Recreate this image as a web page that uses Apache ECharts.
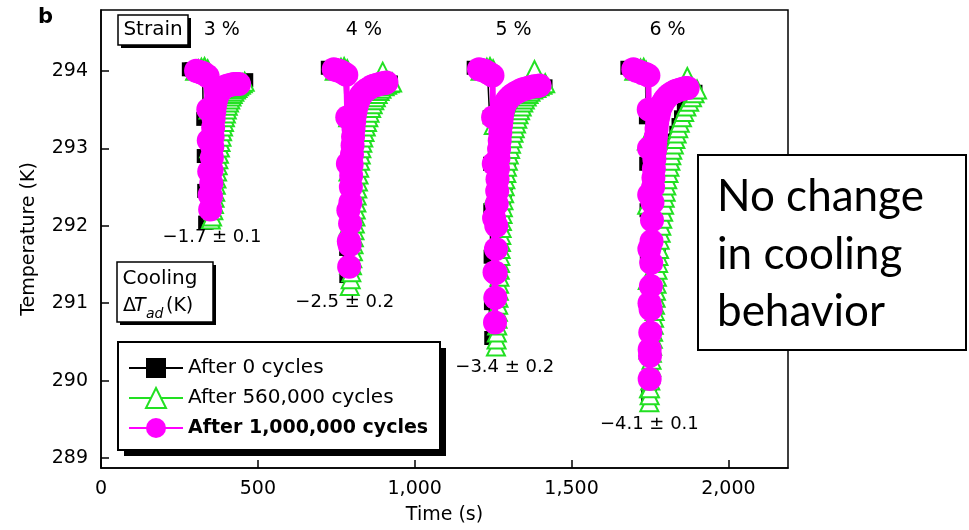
<!DOCTYPE html>
<html><head><meta charset="utf-8">
<script src="https://cdn.jsdelivr.net/npm/echarts@6/dist/echarts.min.js"></script>
<style>html,body{margin:0;padding:0;background:#fff}#c{width:969px;height:530px}</style>
</head><body><div id="c"></div>
<script>
// ---------- data ----------
const seriesNames = ['After 0 cycles', 'After 560,000 cycles', 'After 1,000,000 cycles'];
const xTicks = [0, 500, 1000, 1500, 2000];
const yTicks = [289, 290, 291, 292, 293, 294];
const strainLabels = ['3 %', '4 %', '5 %', '6 %'];
const strainLabelTimes = [385, 838, 1315, 1806];
const strainLabelTemp = 294.53;
const dtLabels = ['\u22121.7 \u00b1 0.1', '\u22122.5 \u00b1 0.2', '\u22123.4 \u00b1 0.2', '\u22124.1 \u00b1 0.1'];
const dtLabelTimes = [354, 777, 1287, 1748];
const dtLabelTemps = [291.85, 291.01, 290.17, 289.44];

// After 0 cycles (black squares) [time s, temperature K]
const black3 = [[280,294.02],[289,294.02],[298,294.01],[307,294.0],[316,293.99],[324,293.97],[326,293.38],[327.5,292.9],[329,292.45],[332,292.04],[337,292.04],[340,292.12],[343,292.2],[346,292.28],[348,292.36],[351,292.44],[353,292.52],[355,292.6],[358,292.68],[360,292.76],[363,292.84],[365,292.92],[368,293.0],[371,293.08],[375,293.16],[379,293.24],[383,293.32],[388,293.4],[393,293.48],[399,293.55],[405,293.62],[413,293.68],[421,293.73],[430,293.77],[440,293.81],[451,293.84],[463,293.88]];
const black4 = [[723,294.04],[732,294.03],[741,294.02],[750,294.01],[759,294.0],[767,293.99],[775,293.98],[779,293.4],[780,292.8],[781,292.2],[781.5,291.7],[782,291.35],[787,291.35],[791,291.45],[793,291.55],[796,291.65],[798,291.75],[800,291.85],[802,291.95],[804,292.05],[806,292.15],[808,292.25],[811,292.35],[813,292.45],[816,292.55],[819,292.65],[822,292.75],[826,292.85],[830,292.95],[834,293.05],[839,293.15],[844,293.25],[850,293.35],[857,293.45],[865,293.55],[874,293.63],[885,293.7],[897,293.76],[910,293.8],[924,293.85]];
const black5 = [[1188,294.04],[1197,294.03],[1206,294.02],[1215,294.01],[1224,294.0],[1232,293.98],[1238,293.96],[1239,293.4],[1240,292.8],[1241,292.2],[1242,291.6],[1243,291.0],[1244,290.55],[1250,290.55],[1254,290.65],[1256,290.75],[1258,290.85],[1260,290.95],[1261,291.05],[1263,291.15],[1264,291.25],[1266,291.35],[1267,291.45],[1269,291.55],[1270,291.65],[1272,291.75],[1274,291.85],[1276,291.95],[1278,292.05],[1280,292.15],[1282,292.25],[1284,292.35],[1287,292.45],[1290,292.55],[1293,292.65],[1296,292.75],[1300,292.85],[1304,292.95],[1308,293.05],[1313,293.15],[1318,293.25],[1324,293.35],[1331,293.45],[1340,293.55],[1350,293.63],[1362,293.69],[1376,293.74],[1390,293.77],[1404,293.79],[1417,293.8]];
const black6 = [[1678,294.04],[1688,294.03],[1698,294.02],[1708,294.01],[1718,294.0],[1728,293.98],[1736,293.96],[1737,293.4],[1738,292.8],[1739,292.2],[1740,291.6],[1741,291.0],[1742,290.4],[1744,289.8],[1748,289.8],[1750,289.9],[1751,290.0],[1752,290.1],[1753,290.2],[1754,290.3],[1756,290.4],[1757,290.5],[1758,290.6],[1760,290.7],[1761,290.8],[1763,290.9],[1764,291.0],[1766,291.1],[1768,291.2],[1770,291.3],[1772,291.4],[1774,291.5],[1776,291.6],[1778,291.7],[1780,291.8],[1783,291.9],[1786,292.0],[1789,292.1],[1792,292.2],[1795,292.3],[1798,292.4],[1801,292.5],[1805,292.6],[1809,292.7],[1813,292.8],[1818,292.9],[1823,293.0],[1828,293.1],[1834,293.2],[1841,293.3],[1849,293.4],[1858,293.5],[1870,293.6],[1882,293.68],[1895,293.73]];

// After 560,000 cycles (green open triangles)
const green3 = [[300,294.0],[310,294.02],[320,294.04],[330,294.05],[340,294.02],[343,293.5],[345,293.0],[347,292.5],[350,292.08],[354,292.12],[358,292.2],[360,292.28],[362,292.36],[364,292.44],[366,292.53],[368,292.61],[370,292.7],[372,292.78],[374,292.86],[376,292.93],[379,293.01],[381,293.08],[384,293.15],[386,293.22],[389,293.28],[392,293.34],[395,293.4],[398,293.45],[401,293.5],[404,293.55],[408,293.59],[412,293.63],[416,293.67],[420,293.7],[425,293.73],[430,293.76],[435,293.78],[440,293.8],[446,293.82],[452,293.84],[458,293.86]];
const green4 = [[745,294.0],[755,294.02],[765,294.04],[775,294.05],[785,294.02],[788,293.4],[789,292.7],[790,292.0],[791,291.5],[793,291.22],[796,291.31],[798,291.4],[800,291.49],[801,291.58],[803,291.67],[805,291.76],[806,291.85],[808,291.94],[809,292.03],[811,292.12],[812,292.21],[814,292.3],[815,292.39],[817,292.48],[819,292.57],[821,292.66],[823,292.75],[826,292.84],[828,292.92],[830,293.0],[833,293.07],[836,293.14],[840,293.21],[844,293.28],[848,293.34],[852,293.4],[856,293.46],[861,293.52],[866,293.57],[871,293.62],[876,293.66],[882,293.7],[888,293.74],[894,293.77],[898,293.99],[904,293.8],[912,293.82],[920,293.84],[928,293.85]];
const green5 = [[1210,294.0],[1220,294.02],[1230,294.04],[1240,294.05],[1250,294.02],[1252,293.3],[1253,292.4],[1255,291.5],[1257,290.9],[1259,290.44],[1261,290.53],[1262,290.62],[1263,290.71],[1264,290.8],[1265,290.89],[1266,290.98],[1267,291.07],[1268,291.16],[1269,291.25],[1270,291.34],[1271,291.43],[1272,291.52],[1273,291.61],[1274,291.7],[1275,291.79],[1276,291.88],[1277,291.97],[1278,292.06],[1280,292.15],[1281,292.24],[1283,292.33],[1285,292.42],[1287,292.51],[1289,292.6],[1292,292.68],[1294,292.76],[1297,292.84],[1300,292.92],[1304,292.99],[1307,293.06],[1311,293.13],[1315,293.2],[1319,293.26],[1323,293.32],[1327,293.38],[1331,293.44],[1336,293.49],[1341,293.54],[1346,293.59],[1351,293.63],[1357,293.67],[1363,293.7],[1369,293.73],[1378,293.76],[1382,294.01],[1388,293.78],[1398,293.8],[1407,293.82],[1416,293.84]];
const green6 = [[1700,294.0],[1710,294.02],[1720,294.03],[1730,294.04],[1738,294.0],[1740,293.1],[1741,292.27],[1743,291.3],[1745,290.4],[1747,289.9],[1748,289.72],[1749,289.81],[1750,289.9],[1751,290.0],[1752,290.09],[1754,290.18],[1755,290.27],[1756,290.36],[1757,290.45],[1759,290.54],[1760,290.63],[1762,290.72],[1763,290.81],[1765,290.9],[1766,290.98],[1768,291.07],[1769,291.16],[1771,291.25],[1772,291.34],[1774,291.43],[1776,291.52],[1777,291.61],[1779,291.7],[1781,291.82],[1784,291.91],[1786,292.0],[1789,292.09],[1792,292.18],[1795,292.27],[1797,292.36],[1800,292.44],[1802,292.52],[1805,292.6],[1809,292.68],[1812,292.76],[1815,292.84],[1818,292.91],[1821,292.98],[1826,293.05],[1831,293.12],[1835,293.19],[1840,293.26],[1845,293.33],[1852,293.4],[1859,293.47],[1866,293.54],[1869,293.92],[1875,293.6],[1884,293.66],[1892,293.71],[1900,293.76]];

// After 1,000,000 cycles (magenta circles)
const magenta3 = [[303,294.0],[311,293.99],[319,293.98],[327,293.97],[334,293.95],[340,293.93],[342,293.5],[343.5,293.1],[345,292.7],[346.5,292.4],[348,292.21],[350.5,292.38],[351.5,292.55],[352.5,292.72],[353.5,292.88],[355,293.02],[356,293.15],[357.5,293.27],[359,293.38],[361,293.47],[363.5,293.55],[366,293.61],[369,293.66],[373,293.7],[378,293.73],[384,293.76],[390,293.78],[397,293.8],[405,293.81],[414,293.82],[423,293.83],[431,293.83],[440,293.83]];
const magenta4 = [[742,294.02],[750,294.01],[758,294.0],[766,293.99],[774,293.97],[782,293.95],[785,293.4],[787,292.8],[788.5,292.2],[790,291.8],[791,291.47],[792.5,291.75],[794,292.03],[795,292.3],[796.5,292.5],[797.5,292.65],[799,292.79],[800,292.92],[802,293.04],[803.5,293.15],[805,293.25],[807,293.34],[809,293.42],[812,293.49],[815,293.55],[819,293.6],[823,293.64],[828,293.68],[834,293.71],[841,293.74],[848,293.76],[856,293.78],[864,293.8],[872,293.81],[880,293.82],[888,293.83],[896,293.84],[903,293.84],[910,293.85]];
const magenta5 = [[1205,294.02],[1214,294.01],[1223,294.0],[1232,293.98],[1241,293.96],[1248,293.94],[1250,293.4],[1252,292.8],[1253,292.1],[1254.5,291.4],[1256,290.75],[1257,291.07],[1258,291.39],[1259,291.7],[1260,292.0],[1261.5,292.28],[1263,292.45],[1264,292.6],[1265.5,292.74],[1267,292.87],[1269,292.99],[1271,293.1],[1273,293.2],[1275,293.29],[1277,293.37],[1279,293.44],[1282,293.5],[1286,293.55],[1290,293.59],[1295,293.62],[1301,293.65],[1308,293.68],[1316,293.7],[1324,293.72],[1333,293.74],[1342,293.76],[1351,293.77],[1360,293.78],[1370,293.79],[1380,293.8],[1389,293.8],[1398,293.81]];
const magenta6 = [[1697,294.02],[1707,294.0],[1717,293.99],[1727,293.97],[1737,293.96],[1745,293.94],[1746,293.5],[1747,293.0],[1747.5,292.4],[1748,291.7],[1748.5,291.0],[1749,290.4],[1749,290.02],[1750,290.32],[1751,290.62],[1752,290.92],[1753,291.22],[1754,291.52],[1755,291.8],[1756.5,292.07],[1758,292.3],[1760,292.5],[1761,292.62],[1762.5,292.74],[1764,292.86],[1766,292.97],[1767,293.07],[1769,293.16],[1771,293.25],[1773,293.33],[1776,293.4],[1779,293.46],[1782,293.51],[1786,293.55],[1790,293.58],[1796,293.62],[1802,293.65],[1808,293.68],[1815,293.7],[1823,293.72],[1831,293.74],[1839,293.75],[1847,293.76],[1855,293.77],[1863,293.78],[1870,293.78]];

// ---------- chart ----------
const FONT = '"DejaVu Sans", "Liberation Sans", Arial, sans-serif';
const chart = echarts.init(document.getElementById('c'), null, {renderer: 'canvas'});
const fmt = v => String(v).replace(/\B(?=(\d{3})+(?!\d))/g, ',');
const GREEN = '#22e022', MAGENTA = '#ff00ff';

function mk(name, data, kind) {
  const base = {type: 'line', name: name, data: data, animation: false, silent: true, clip: true};
  if (kind === 0) return Object.assign(base, {
    symbol: 'rect', symbolSize: 14, z: 2,
    itemStyle: {color: '#000'}, lineStyle: {color: '#000', width: 1.5}
  });
  if (kind === 1) return Object.assign(base, {
    symbol: 'emptyTriangle', symbolSize: 18, z: 3,
    itemStyle: {color: GREEN, borderColor: GREEN, borderWidth: 1.3},
    lineStyle: {color: GREEN, width: 1.5}
  });
  return Object.assign(base, {
    symbol: 'circle', symbolSize: 24, z: 4,
    itemStyle: {color: MAGENTA}, lineStyle: {color: MAGENTA, width: 6}
  });
}

const series = [];
[black3, black4, black5, black6].forEach(d => series.push(mk(seriesNames[0], d, 0)));
[green3, green4, green5, green6].forEach(d => series.push(mk(seriesNames[1], d, 1)));
[magenta3, magenta4, magenta5, magenta6].forEach(d => series.push(mk(seriesNames[2], d, 2)));

const labelSeries = (name, data, size) => ({
  type: 'scatter', name: name, silent: true, animation: false, z: 10,
  symbolSize: 1, itemStyle: {color: 'rgba(0,0,0,0)', opacity: 1},
  data: data,
  label: {show: true, position: 'inside', formatter: p => p.name, color: '#000', opacity: 1, fontSize: size, fontFamily: FONT}
});
series.push(labelSeries('strain', strainLabels.map((s, i) => ({name: s, value: [strainLabelTimes[i], strainLabelTemp]})), 19));
series.push(labelSeries('dT', dtLabels.map((s, i) => ({name: s, value: [dtLabelTimes[i], dtLabelTemps[i]]})), 18));

const txt = (x, y, text, size, extra) => Object.assign({
  type: 'text', x: x, y: y, z: 102,
  style: Object.assign({text: text, fill: '#000', fontSize: size, fontFamily: FONT, align: 'left', verticalAlign: 'middle', textAlign: 'left', textVerticalAlign: 'middle'}, extra || {})
});
// shadowed box: black offset rect + white bordered rect
const shBox = (x, y, w, h, off, lw, z) => [
  {type: 'rect', z: z, shape: {x: x + off, y: y + off, width: w, height: h}, style: {fill: '#000'}},
  {type: 'rect', z: z + 0.5, shape: {x: x, y: y, width: w, height: h}, style: {fill: '#fff', stroke: '#000', lineWidth: lw}}
];

chart.setOption({
  backgroundColor: '#fff',
  animation: false,
  grid: {left: 101, right: 181, top: 10, bottom: 61, show: true, borderColor: '#000', borderWidth: 1.5, containLabel: false},
  xAxis: {
    type: 'value', min: 0, max: 2190,
    name: 'Time (s)', nameLocation: 'middle', nameGap: 38,
    nameTextStyle: {color: '#000', fontSize: 19, fontFamily: FONT},
    axisLine: {show: true, lineStyle: {color: '#000', width: 1.5}},
    axisTick: {show: true, inside: true, length: 8, customValues: xTicks, lineStyle: {color: '#000', width: 1.5}},
    axisLabel: {show: true, customValues: xTicks, formatter: v => fmt(v), color: '#000', fontSize: 19, fontFamily: FONT, margin: 12},
    splitLine: {show: false}
  },
  yAxis: {
    type: 'value', min: 288.871, max: 294.786,
    name: 'Temperature (K)', nameLocation: 'middle', nameGap: 62, nameRotate: 90,
    nameTextStyle: {color: '#000', fontSize: 19, fontFamily: FONT},
    axisLine: {show: true, lineStyle: {color: '#000', width: 1.5}},
    axisTick: {show: true, inside: true, length: 8, customValues: yTicks, lineStyle: {color: '#000', width: 1.5}},
    axisLabel: {show: true, customValues: yTicks, color: '#000', fontSize: 19, fontFamily: FONT, margin: 13},
    splitLine: {show: false}
  },
  legend: {
    data: [
      {name: seriesNames[0]},
      {name: seriesNames[1]},
      {name: seriesNames[2], textStyle: {fontWeight: 'bold', fontSize: 19}}
    ],
    orient: 'vertical', left: 120, top: 348,
    itemWidth: 54, itemHeight: 25, itemGap: 9,
    padding: [10, 12, 8, 8],
    backgroundColor: 'rgba(0,0,0,0)', borderWidth: 0,
    textStyle: {color: '#000', fontSize: 20, fontFamily: FONT},
    selectedMode: false, z: 60
  },
  graphic: [].concat(
    [txt(38, 18, 'b', 21, {fontWeight: 'bold'})],
    shBox(118, 15, 70, 30, 3, 1.5, 100),
    [txt(153, 30, 'Strain', 20, {align: 'center', textAlign: 'center'})],
    shBox(117, 262, 96, 60, 3, 1.5, 100),
    [txt(160, 279, 'Cooling', 20, {align: 'center', textAlign: 'center'}),
     txt(123, 306, '\u0394', 19),
     txt(134, 306, 'T', 19, {fontStyle: 'italic'}),
     txt(146, 314, 'ad', 14, {fontStyle: 'italic'}),
     txt(166, 306, '(K)', 19)],
    shBox(118, 342, 322, 108, 6, 2, 40),
    [{type: 'rect', z: 100, shape: {x: 698, y: 155, width: 268, height: 195}, style: {fill: '#fff', stroke: '#000', lineWidth: 2}},
     txt(717, 197, 'No change', 44, {fontFamily: 'Lato, "Open Sans", sans-serif'}),
     txt(717, 255, 'in cooling', 44, {fontFamily: 'Lato, "Open Sans", sans-serif'}),
     txt(717, 312, 'behavior', 44, {fontFamily: 'Lato, "Open Sans", sans-serif'})]
  ),
  series: series
});
</script>
</body></html>
